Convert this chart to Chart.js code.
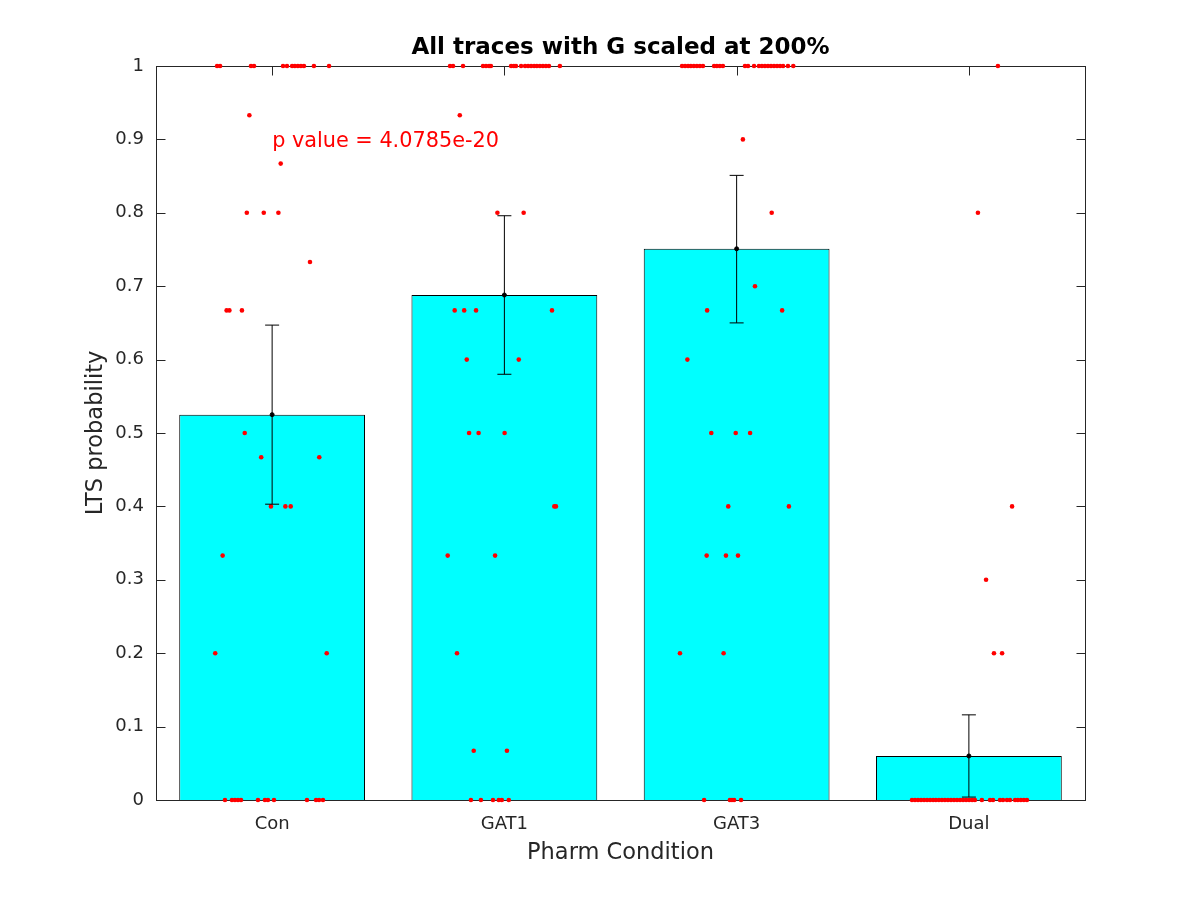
<!DOCTYPE html>
<html>
<head>
<meta charset="utf-8">
<title>LTS probability</title>
<script src="https://cdn.jsdelivr.net/npm/chart.js@4.4.0/dist/chart.umd.min.js"></script>
<style>
  html, body { margin: 0; padding: 0; background: #fff; }
  #wrap { width: 1200px; height: 900px; position: relative; }
</style>
</head>
<body>
<div id="wrap"><canvas id="ltsChart"></canvas></div>
<script>
const categories = ['Con', 'GAT1', 'GAT3', 'Dual'];
const means = [0.525, 0.688, 0.751, 0.060];
const errLow = [0.403, 0.580, 0.650, 0.004];
const errHigh = [0.647, 0.796, 0.851, 0.116];
const yTicks = [0, 0.1, 0.2, 0.3, 0.4, 0.5, 0.6, 0.7, 0.8, 0.9, 1];

const titleText = 'All traces with G scaled at 200%';
const xLabel = 'Pharm Condition';
const yLabel = 'LTS probability';
const pText = 'p value = 4.0785e-20';
const pPos = [1, 0.9];

// individual traces, x = jittered position around the category
const conX = [0.763, 0.776, 0.909, 0.922, 1.047, 1.064, 1.086, 1.098, 1.111, 1.124, 1.137, 1.180, 1.245,
  0.902, 1.037, 0.891, 0.964, 1.027, 1.163, 0.804, 0.816, 0.870, 0.882, 0.953, 1.203,
  0.995, 1.057, 1.080, 0.787, 0.755, 1.235,
  0.797, 0.827, 0.840, 0.853, 0.866, 0.939, 0.969, 0.982, 1.008, 1.150, 1.189, 1.202, 1.219];
const conY = [1, 1, 1, 1, 1, 1, 1, 1, 1, 1, 1, 1, 1,
  0.933, 0.867, 0.8, 0.8, 0.8, 0.733, 0.667, 0.667, 0.667, 0.5, 0.467, 0.467,
  0.4, 0.4, 0.4, 0.333, 0.2, 0.2,
  0, 0, 0, 0, 0, 0, 0, 0, 0, 0, 0, 0, 0];

const gat1X = [1.766, 1.779, 1.822, 1.908, 1.921, 1.934, 1.942, 2.029, 2.041, 2.050, 2.072, 2.089, 2.102,
  2.115, 2.128, 2.140, 2.153, 2.166, 2.179, 2.192, 2.239,
  1.808, 1.970, 2.083, 1.786, 1.827, 1.878, 2.205, 1.838, 2.062, 1.848, 1.889, 2.001,
  2.215, 2.222, 1.756, 1.960, 1.796, 1.868, 2.011,
  1.856, 1.899, 1.951, 1.976, 1.989, 2.019];
const gat1Y = [1, 1, 1, 1, 1, 1, 1, 1, 1, 1, 1, 1, 1,
  1, 1, 1, 1, 1, 1, 1, 1,
  0.933, 0.8, 0.8, 0.667, 0.667, 0.667, 0.667, 0.6, 0.6, 0.5, 0.5, 0.5,
  0.4, 0.4, 0.333, 0.333, 0.2, 0.067, 0.067,
  0, 0, 0, 0, 0, 0];

const gat3X = [2.765, 2.778, 2.791, 2.803, 2.816, 2.829, 2.842, 2.855, 2.903, 2.915, 2.928, 2.941, 3.036,
  3.049, 3.075, 3.096, 3.109, 3.122, 3.135, 3.148, 3.161, 3.174, 3.187, 3.200, 3.221, 3.244,
  3.027, 3.151, 3.079, 2.873, 3.196, 2.788, 2.891, 2.996, 3.058, 2.964, 3.225,
  2.871, 2.954, 3.006, 2.756, 2.944,
  2.860, 2.971, 2.980, 2.989, 3.019];
const gat3Y = [1, 1, 1, 1, 1, 1, 1, 1, 1, 1, 1, 1, 1,
  1, 1, 1, 1, 1, 1, 1, 1, 1, 1, 1, 1, 1,
  0.9, 0.8, 0.7, 0.667, 0.667, 0.6, 0.5, 0.5, 0.5, 0.4, 0.4,
  0.333, 0.333, 0.333, 0.2, 0.2,
  0, 0, 0, 0, 0];

const dualX = [4.125, 4.039, 4.186, 4.074, 4.108, 4.143,
  3.755, 3.768, 3.781, 3.794, 3.807, 3.820, 3.833, 3.846, 3.858, 3.871, 3.884,
  3.897, 3.910, 3.923, 3.936, 3.949, 3.962, 3.975, 3.988, 4.001, 4.014, 4.026,
  4.056, 4.091, 4.104, 4.134, 4.147, 4.164, 4.177, 4.199, 4.211, 4.224, 4.237, 4.250];
const dualY = [1, 0.8, 0.4, 0.3, 0.2, 0.2,
  0, 0, 0, 0, 0, 0, 0, 0, 0, 0, 0,
  0, 0, 0, 0, 0, 0, 0, 0, 0, 0, 0,
  0, 0, 0, 0, 0, 0, 0, 0, 0, 0, 0, 0];

const axisColor = '#262626';
const fontFamily = '"DejaVu Sans", sans-serif';

function pairs(xs, ys) {
  return xs.map((x, i) => ({ x: x, y: ys[i] }));
}

const tracePoints = [].concat(pairs(conX, conY), pairs(gat1X, gat1Y), pairs(gat3X, gat3Y), pairs(dualX, dualY));

// one small line dataset per error bar: low cap, mean dot, high cap
const errorSets = categories.map((c, i) => ({
  type: 'line',
  data: [{ x: i + 1, y: errLow[i] }, { x: i + 1, y: means[i] }, { x: i + 1, y: errHigh[i] }],
  borderColor: '#000',
  borderWidth: 1,
  pointStyle: ['line', 'circle', 'line'],
  pointRadius: [7, 2, 7],
  pointBorderColor: '#000',
  pointBackgroundColor: '#000',
  pointBorderWidth: 1,
  clip: false,
  order: 1
}));

const matlabAxes = {
  id: 'matlabAxes',
  beforeDatasetsDraw(chart) {
    const { ctx, chartArea: a, scales: { x, y } } = chart;
    const L = Math.round(a.left) + 0.5, R = Math.round(a.right) + 0.5;
    const T = Math.round(a.top) + 0.5, B = Math.round(a.bottom) + 0.5;
    ctx.save();
    ctx.strokeStyle = axisColor;
    ctx.lineWidth = 1;
    ctx.strokeRect(L, T, R - L, B - T);
    ctx.beginPath();
    const tl = 9;
    yTicks.forEach(v => {
      const py = Math.round(y.getPixelForValue(v)) + 0.5;
      ctx.moveTo(L, py); ctx.lineTo(L + tl, py);
      ctx.moveTo(R, py); ctx.lineTo(R - tl, py);
    });
    categories.forEach((c, i) => {
      const px = Math.round(x.getPixelForValue(i + 1)) + 0.5;
      ctx.moveTo(px, T); ctx.lineTo(px, T + tl);
      ctx.moveTo(px, B); ctx.lineTo(px, B - tl);
    });
    ctx.stroke();
    ctx.restore();
  },
  afterDraw(chart) {
    const { ctx, chartArea: a, scales: { x, y } } = chart;
    const cx = (a.left + a.right) / 2;
    ctx.save();
    ctx.fillStyle = '#000';
    ctx.textAlign = 'center';
    ctx.textBaseline = 'middle';
    ctx.font = 'bold 23px ' + fontFamily;
    ctx.fillText(titleText, cx, 48);

    ctx.fillStyle = axisColor;
    ctx.font = '22.5px ' + fontFamily;
    ctx.fillText(xLabel, cx, 853);

    ctx.translate(96, (a.top + a.bottom) / 2);
    ctx.rotate(-Math.PI / 2);
    ctx.fillText(yLabel, 0, 0);
    ctx.restore();

    ctx.save();
    ctx.fillStyle = '#ff0000';
    ctx.font = '20.8px ' + fontFamily;
    ctx.textAlign = 'left';
    ctx.textBaseline = 'middle';
    ctx.fillText(pText, x.getPixelForValue(pPos[0]), y.getPixelForValue(pPos[1]) + 2);
    ctx.restore();
  }
};

new Chart(document.getElementById('ltsChart'), {
  type: 'bar',
  data: {
    datasets: [
      {
        type: 'bar',
        data: means.map((m, i) => ({ x: i + 1, y: m })),
        backgroundColor: '#00ffff',
        borderColor: '#000',
        borderWidth: 1,
        barPercentage: 0.8,
        categoryPercentage: 1,
        order: 3
      },
      {
        type: 'scatter',
        data: tracePoints,
        pointRadius: 2.3,
        pointBackgroundColor: '#ff0000',
        pointBorderWidth: 0,
        clip: false,
        order: 2
      }
    ].concat(errorSets)
  },
  options: {
    responsive: true,
    maintainAspectRatio: false,
    animation: false,
    layout: { padding: { left: 0, right: 115, top: 66, bottom: 0 } },
    plugins: {
      legend: { display: false },
      tooltip: { enabled: false },
      title: { display: false }
    },
    scales: {
      x: {
        type: 'linear',
        min: 0.5,
        max: 4.5,
        offset: false,
        grid: { display: false, drawTicks: false },
        border: { display: false },
        afterBuildTicks: s => { s.ticks = categories.map((c, i) => ({ value: i + 1 })); },
        afterFit: s => { s.height = 100; },
        ticks: {
          padding: 14,
          color: axisColor,
          font: { family: fontFamily, size: 18 },
          callback: v => categories[Math.round(v) - 1]
        }
      },
      y: {
        min: 0,
        max: 1,
        grid: { display: false, drawTicks: false },
        border: { display: false },
        afterBuildTicks: s => { s.ticks = yTicks.map(v => ({ value: v })); },
        afterFit: s => { s.width = 156; },
        ticks: {
          padding: 12,
          color: axisColor,
          font: { family: fontFamily, size: 18 },
          callback: v => String(parseFloat(v.toFixed(1)))
        }
      }
    }
  },
  plugins: [matlabAxes]
});
</script>
</body>
</html>
